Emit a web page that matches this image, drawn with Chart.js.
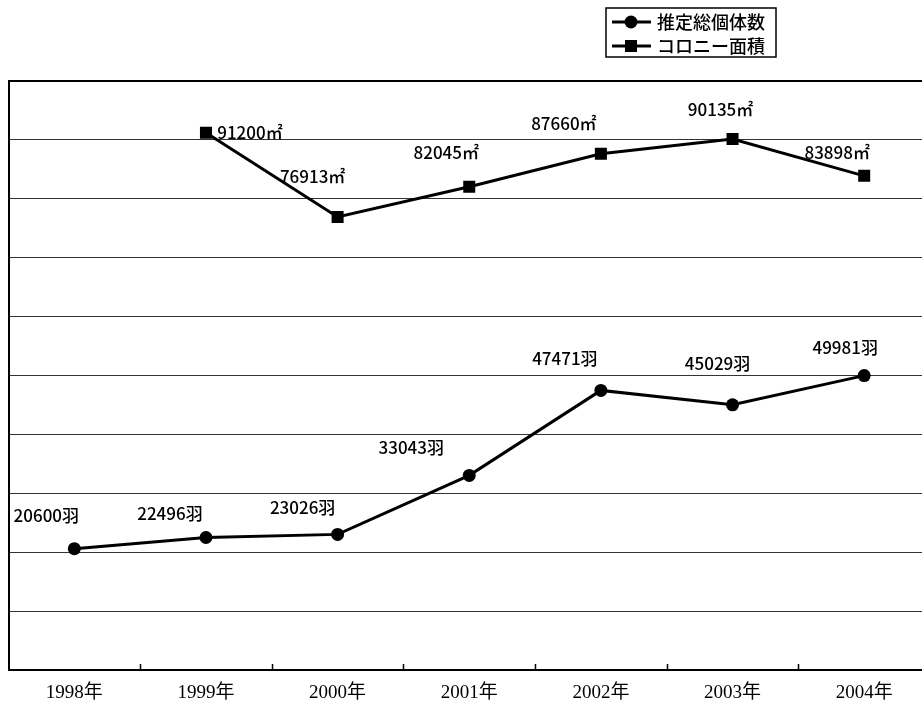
<!DOCTYPE html>
<html>
<head>
<meta charset="utf-8">
<script src="https://cdn.jsdelivr.net/npm/chart.js@4"></script>
<style>
  html, body { margin: 0; padding: 0; background: #fff; overflow: hidden; }
  #wrap { width: 940px; height: 703px; }
</style>
</head>
<body>
<div id="wrap"><canvas id="c" width="940" height="703"></canvas></div>
<script>
// ---- data ----
const years = ['1998年', '1999年', '2000年', '2001年', '2002年', '2003年', '2004年'];
const birdCounts = [20600, 22496, 23026, 33043, 47471, 45029, 49981];
const colonyArea = [null, 91200, 76913, 82045, 87660, 90135, 83898];
const seriesNames = ['推定総個体数', 'コロニー面積'];
const seriesUnits = ['羽', '㎡'];
const yMin = 0, yMax = 100000, yStep = 10000;

// ---- label placement (style) ----
const labelOffsets = [
  [[-28, -33], [-36, -24], [-35, -27], [-58, -28], [-36, -32], [-15, -41], [-19, -28]],
  [null, [44, 0], [-25, -40], [-23, -34], [-37, -30], [-12, -30], [-27, -23]]
];
const labelFont = '500 17px "Noto Sans CJK JP", sans-serif';

const dataLabelPlugin = {
  id: 'dataLabels',
  afterDatasetsDraw(chart) {
    const ctx = chart.ctx;
    ctx.save();
    ctx.font = labelFont;
    ctx.fillStyle = '#000';
    ctx.textAlign = 'center';
    ctx.textBaseline = 'middle';
    chart.data.datasets.forEach((ds, di) => {
      const meta = chart.getDatasetMeta(di);
      meta.data.forEach((pt, i) => {
        const v = ds.data[i];
        if (v === null || v === undefined) return;
        const off = labelOffsets[di][i] || [0, -25];
        ctx.fillText(String(v) + seriesUnits[di], pt.x + off[0], pt.y + off[1]);
      });
    });
    ctx.restore();
  }
};

const innerTicksPlugin = {
  id: 'innerTicks',
  afterDraw(chart) {
    const xs = chart.scales.x;
    const ctx = chart.ctx;
    const bottom = chart.chartArea.bottom;
    ctx.save();
    ctx.strokeStyle = '#000';
    ctx.lineWidth = 1.5;
    for (let i = 0; i < years.length - 1; i++) {
      const x = Math.round((xs.getPixelForValue(i) + xs.getPixelForValue(i + 1)) / 2) + 0.5;
      ctx.beginPath();
      ctx.moveTo(x, bottom);
      ctx.lineTo(x, bottom - 6);
      ctx.stroke();
    }
    ctx.restore();
  }
};

const legendPlugin = {
  id: 'boxLegend',
  afterDraw(chart) {
    const ctx = chart.ctx;
    ctx.save();
    const bx = 606, by = 8, bw = 170, bh = 49;
    ctx.strokeStyle = '#000';
    ctx.lineWidth = 1.5;
    ctx.strokeRect(bx, by, bw, bh);
    ctx.font = '500 18px "Noto Sans CJK JP", sans-serif';
    ctx.textBaseline = 'middle';
    ctx.textAlign = 'left';
    ctx.fillStyle = '#000';
    const rows = [22, 46];
    chart.data.datasets.forEach((ds, i) => {
      const y = rows[i];
      ctx.lineWidth = 3;
      ctx.beginPath();
      ctx.moveTo(612, y);
      ctx.lineTo(651, y);
      ctx.stroke();
      if (ds.pointStyle === 'rect') {
        ctx.fillRect(625, y - 6, 12, 12);
      } else {
        ctx.beginPath();
        ctx.arc(631, y, 6.5, 0, Math.PI * 2);
        ctx.fill();
      }
      ctx.fillText(ds.label, 657, y);
    });
    ctx.restore();
  }
};

new Chart(document.getElementById('c'), {
  type: 'line',
  data: {
    labels: years,
    datasets: [
      {
        label: seriesNames[0],
        data: birdCounts,
        borderColor: '#000',
        backgroundColor: '#000',
        borderWidth: 3,
        pointStyle: 'circle',
        pointRadius: 6.5,
        pointBackgroundColor: '#000',
        pointBorderWidth: 0,
        tension: 0
      },
      {
        label: seriesNames[1],
        data: colonyArea,
        borderColor: '#000',
        backgroundColor: '#000',
        borderWidth: 3,
        pointStyle: 'rect',
        pointRadius: 8.5,
        pointBackgroundColor: '#000',
        pointBorderWidth: 0,
        tension: 0,
        spanGaps: false
      }
    ]
  },
  options: {
    responsive: false,
    animation: false,
    layout: { padding: { left: 8, right: 10, top: 81, bottom: 0 } },
    plugins: {
      legend: { display: false },
      tooltip: { enabled: false }
    },
    scales: {
      x: {
        type: 'category',
        offset: true,
        grid: { display: true, drawOnChartArea: false, drawTicks: false },
        border: { display: true, color: '#000', width: 2 },
        ticks: {
          color: '#000',
          padding: 12,
          font: { family: '"Liberation Serif", "Noto Sans CJK JP", serif', size: 19 }
        },
        afterFit(scale) { scale.height = 33; }
      },
      y: {
        min: yMin,
        max: yMax,
        ticks: { display: false, stepSize: yStep },
        grid: {
          drawTicks: false,
          color: (c) => (c.tick && c.tick.value === yMax ? '#000' : '#333'),
          lineWidth: (c) => (c.tick && c.tick.value === yMax ? 2 : 1)
        },
        border: { display: true, color: '#000', width: 2 }
      }
    }
  },
  plugins: [dataLabelPlugin, innerTicksPlugin, legendPlugin]
});
</script>
</body>
</html>
